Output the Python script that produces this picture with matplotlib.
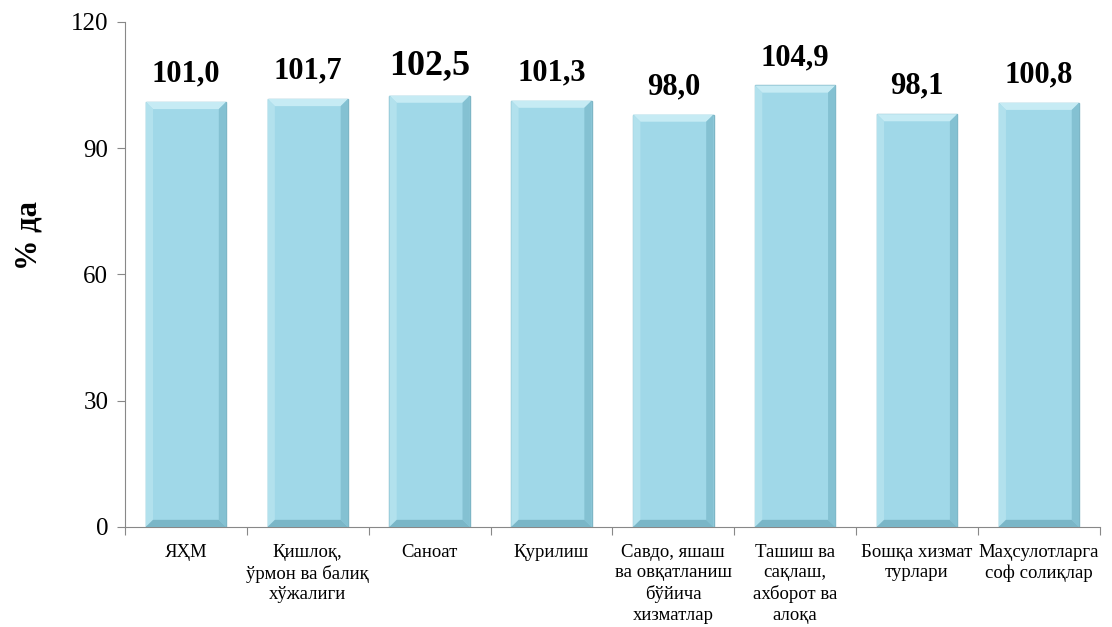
import matplotlib.pyplot as plt
from matplotlib.patches import Polygon

plt.rcParams["font.family"] = ["Liberation Serif", "DejaVu Serif"]

categories = [
    "ЯҲМ",
    "Қишлоқ,\nўрмон ва балиқ\nхўжалиги",
    "Саноат",
    "Қурилиш",
    "Савдо, яшаш\nва овқатланиш\nбўйича\nхизматлар",
    "Ташиш ва\nсақлаш,\nахборот ва\nалоқа",
    "Бошқа хизмат\nтурлари",
    "Маҳсулотларга\nсоф солиқлар",
]
values = [101.0, 101.7, 102.5, 101.3, 98.0, 104.9, 98.1, 100.8]
value_labels = ["101,0", "101,7", "102,5", "101,3", "98,0", "104,9", "98,1", "100,8"]
label_sizes = [22, 22, 26, 22, 22, 22, 22, 22]

fig = plt.figure(figsize=(11.12, 6.27), dpi=100)
ax = fig.add_axes([0.1124, 0.1595, 0.8766, 0.8055])

x = list(range(len(categories)))
bars = ax.bar(x, values, width=0.66, color="#A0D8E8", edgecolor="#7DB6C6",
              linewidth=1.0, zorder=2)

# bevel effect on each bar
bx, by = 0.06, 1.7
for b in bars:
    x0, w, h = b.get_x(), b.get_width(), b.get_height()
    x1 = x0 + w
    top = Polygon([(x0, h), (x1, h), (x1 - bx, h - by), (x0 + bx, h - by)],
                  closed=True, facecolor="#C6EBF4", edgecolor="none", zorder=3)
    left = Polygon([(x0, 0), (x0, h), (x0 + bx, h - by), (x0 + bx, by)],
                   closed=True, facecolor="#B2E1ED", edgecolor="none", zorder=3)
    right = Polygon([(x1, 0), (x1, h), (x1 - bx, h - by), (x1 - bx, by)],
                    closed=True, facecolor="#84C1D2", edgecolor="none", zorder=3)
    bottom = Polygon([(x0, 0), (x1, 0), (x1 - bx, by), (x0 + bx, by)],
                     closed=True, facecolor="#7AB6C7", edgecolor="none", zorder=3)
    for p in (top, left, right, bottom):
        ax.add_patch(p)

for xi, v, lab, s in zip(x, values, value_labels, label_sizes):
    ax.text(xi, v + 3.2, lab, ha="center", va="bottom", fontsize=s,
            fontweight="bold", zorder=4)

ax.set_xlim(-0.5, len(categories) - 0.5)
ax.set_ylim(0, 120)
ax.set_yticks([0, 30, 60, 90, 120])
ax.tick_params(axis="y", labelsize=18, length=6, color="#888888", pad=6)

ax.set_xticks([i - 0.5 for i in range(len(categories) + 1)])
ax.set_xticklabels([])
ax.set_xticks(x, minor=True)
ax.set_xticklabels(categories, minor=True, fontsize=13.5, linespacing=1.28)
ax.tick_params(axis="x", which="major", length=6, color="#888888")
ax.tick_params(axis="x", which="minor", length=0, pad=12)

for side in ("top", "right"):
    ax.spines[side].set_visible(False)
for side in ("left", "bottom"):
    ax.spines[side].set_color("#888888")

ax.set_ylabel("% да", fontsize=22, fontweight="bold")
ax.yaxis.set_label_coords(-0.084, 0.578)

fig.savefig("out.png", dpi=100)
